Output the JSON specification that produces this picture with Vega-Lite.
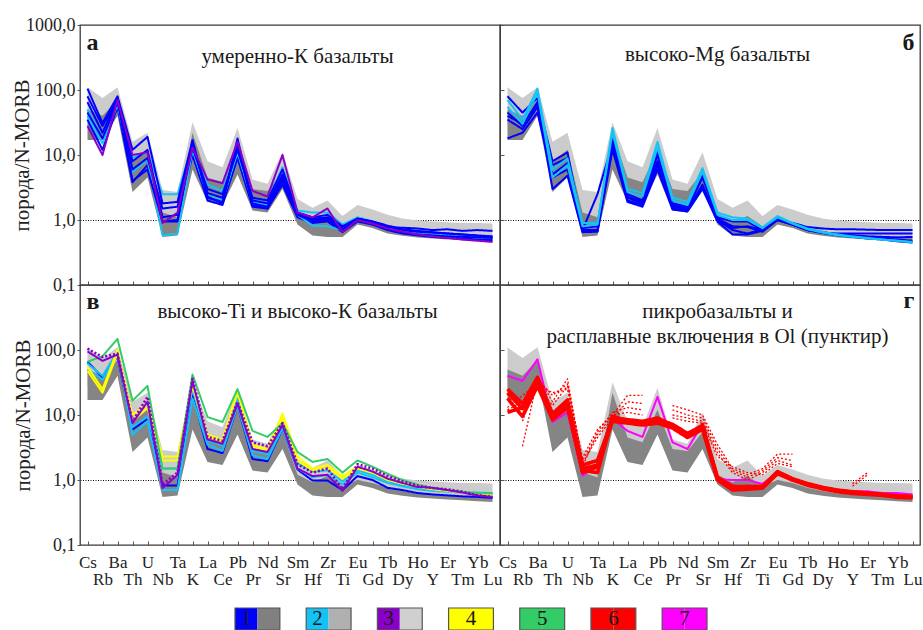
{
"$schema": "https://vega.github.io/schema/vega-lite/v6.json",
"padding": {"left": 10, "top": 15, "right": 2, "bottom": 2},
"background": "white",
"config": {
  "view": {"stroke": "#3a3a3a", "strokeWidth": 1.3},
  "axis": {"labelFont": "Liberation Serif", "titleFont": "Liberation Serif", "labelColor": "#222", "titleColor": "#222", "labelFontSize": 17, "titleFontSize": 21, "titleFontWeight": "normal", "zindex": 1, "tickColor": "#555", "domain": false},
  "text": {"font": "Liberation Serif", "color": "#1a1a1a"}
},
"datasets": {
  "fields": [
    {"f":"f3","b":"v","Cs":110,"Rb":75,"Ba":110,"Th":16,"U":22,"Nb":2.9,"Ta":2.7,"K":32,"La":8,"Ce":6.5,"Pb":26,"Pr":4.2,"Nd":3.6,"Sr":11,"Sm":2.1,"Hf":1.55,"Zr":2.0,"Ti":1.15,"Eu":1.7,"Gd":1.45,"Tb":1.2,"Dy":1.05,"Ho":0.98,"Y":0.95,"Er":0.92,"Tm":0.9,"Yb":0.9,"Lu":0.88},
    {"f":"f3","b":"lo","Cs":28,"Rb":22,"Ba":45,"Th":4.5,"U":7,"Nb":0.85,"Ta":0.85,"K":12,"La":2.8,"Ce":2.4,"Pb":9,"Pr":2.1,"Nd":1.9,"Sr":4.5,"Sm":1.1,"Hf":0.85,"Zr":0.9,"Ti":0.72,"Eu":1.0,"Gd":0.88,"Tb":0.74,"Dy":0.66,"Ho":0.61,"Y":0.59,"Er":0.57,"Tm":0.55,"Yb":0.54,"Lu":0.53},
    {"f":"f1","b":"v","Cs":50,"Rb":40,"Ba":70,"Th":8,"U":12,"Nb":1.3,"Ta":1.1,"K":22,"La":4.5,"Ce":3.8,"Pb":12,"Pr":3.0,"Nd":2.8,"Sr":5.5,"Sm":1.2,"Hf":0.92,"Zr":1.15,"Ti":0.8,"Eu":1.0,"Gd":0.9,"Tb":0.76,"Dy":0.68,"Ho":0.62,"Y":0.6,"Er":0.58,"Tm":0.56,"Yb":0.55,"Lu":0.54},
    {"f":"f1","b":"lo","Cs":17,"Rb":17,"Ba":40,"Th":2.7,"U":4.5,"Nb":0.55,"Ta":0.58,"K":6,"La":1.9,"Ce":1.7,"Pb":5,"Pr":1.4,"Nd":1.3,"Sr":3,"Sm":0.85,"Hf":0.58,"Zr":0.55,"Ti":0.55,"Eu":0.85,"Gd":0.75,"Tb":0.62,"Dy":0.57,"Ho":0.54,"Y":0.52,"Er":0.5,"Tm":0.49,"Yb":0.47,"Lu":0.46}
  ],
  "series": [
    {"p":"a","s":"a8","g":"1","t":"s","Cs":35,"Rb":12,"Ba":55,"Th":3.8,"U":7,"Nb":0.95,"Ta":1.0,"K":10,"La":2.0,"Ce":1.7,"Pb":9,"Pr":1.6,"Nd":1.5,"Sr":3.5,"Sm":1.1,"Hf":0.9,"Zr":0.95,"Ti":0.65,"Eu":0.95,"Gd":0.85,"Tb":0.7,"Dy":0.62,"Ho":0.58,"Y":0.55,"Er":0.53,"Tm":0.52,"Yb":0.5,"Lu":0.49},
    {"p":"a","s":"a6","g":"2","t":"s","Cs":40,"Rb":15,"Ba":60,"Th":5.5,"U":8.5,"Nb":0.58,"Ta":0.62,"K":12,"La":2.4,"Ce":2.0,"Pb":11,"Pr":1.9,"Nd":1.7,"Sr":4.5,"Sm":1.2,"Hf":0.82,"Zr":0.8,"Ti":0.7,"Eu":1.0,"Gd":0.9,"Tb":0.74,"Dy":0.66,"Ho":0.62,"Y":0.6,"Er":0.58,"Tm":0.56,"Yb":0.54,"Lu":0.53},
    {"p":"a","s":"a5","g":"2","t":"s","Cs":50,"Rb":18,"Ba":72,"Th":9,"U":11,"Nb":2.5,"Ta":2.5,"K":14,"La":3.5,"Ce":2.8,"Pb":13,"Pr":2.2,"Nd":2.0,"Sr":6.5,"Sm":1.4,"Hf":1.3,"Zr":1.3,"Ti":0.85,"Eu":1.1,"Gd":0.95,"Tb":0.78,"Dy":0.7,"Ho":0.65,"Y":0.6,"Er":0.58,"Tm":0.56,"Yb":0.55,"Lu":0.54},
    {"p":"a","s":"a2","g":"1","t":"s","Cs":80,"Rb":28,"Ba":70,"Th":4,"U":6,"Nb":0.95,"Ta":0.95,"K":16,"La":2.2,"Ce":1.9,"Pb":15,"Pr":1.7,"Nd":1.5,"Sr":4.0,"Sm":1.2,"Hf":0.95,"Zr":1.0,"Ti":0.68,"Eu":1.0,"Gd":0.9,"Tb":0.72,"Dy":0.65,"Ho":0.6,"Y":0.58,"Er":0.56,"Tm":0.55,"Yb":0.54,"Lu":0.53},
    {"p":"a","s":"a3","g":"1","t":"s","Cs":65,"Rb":22,"Ba":72,"Th":6,"U":9,"Nb":1.5,"Ta":1.6,"K":14,"La":2.6,"Ce":2.2,"Pb":13,"Pr":2.0,"Nd":1.8,"Sr":5,"Sm":1.3,"Hf":1.05,"Zr":1.1,"Ti":0.78,"Eu":1.05,"Gd":0.95,"Tb":0.8,"Dy":0.7,"Ho":0.66,"Y":0.64,"Er":0.62,"Tm":0.6,"Yb":0.58,"Lu":0.56},
    {"p":"a","s":"a4","g":"1","t":"s","Cs":45,"Rb":18,"Ba":65,"Th":8,"U":12,"Nb":1.1,"Ta":1.2,"K":13,"La":3.0,"Ce":2.5,"Pb":12,"Pr":2.2,"Nd":2.0,"Sr":6,"Sm":1.3,"Hf":1.1,"Zr":1.2,"Ti":0.8,"Eu":1.05,"Gd":0.95,"Tb":0.82,"Dy":0.72,"Ho":0.68,"Y":0.65,"Er":0.62,"Tm":0.6,"Yb":0.57,"Lu":0.55},
    {"p":"a","s":"a1","g":"1","t":"s","Cs":105,"Rb":31,"Ba":80,"Th":12,"U":19,"Nb":1.8,"Ta":1.9,"K":17,"La":2.3,"Ce":1.8,"Pb":18,"Pr":1.8,"Nd":1.6,"Sr":4.5,"Sm":1.25,"Hf":1.0,"Zr":1.05,"Ti":0.72,"Eu":1.0,"Gd":0.9,"Tb":0.78,"Dy":0.76,"Ho":0.74,"Y":0.7,"Er":0.72,"Tm":0.68,"Yb":0.7,"Lu":0.68},
    {"p":"a","s":"a7","g":"3","t":"s","Cs":28,"Rb":10,"Ba":70,"Th":10,"U":11,"Nb":0.9,"Ta":1.3,"K":13,"La":4.2,"Ce":3.7,"Pb":16,"Pr":2.8,"Nd":2.3,"Sr":10,"Sm":1.3,"Hf":1.1,"Zr":1.5,"Ti":0.65,"Eu":1.0,"Gd":0.88,"Tb":0.74,"Dy":0.66,"Ho":0.6,"Y":0.56,"Er":0.53,"Tm":0.5,"Yb":0.48,"Lu":0.46},
    {"p":"b","s":"b2","g":"1","t":"s","Cs":45,"Rb":28,"Ba":65,"Th":3.0,"U":4.8,"Nb":0.65,"Ta":0.66,"K":12,"La":1.9,"Ce":1.6,"Pb":6,"Pr":1.45,"Nd":1.35,"Sr":3.0,"Sm":0.95,"Hf":0.6,"Zr":0.6,"Ti":0.68,"Eu":1.0,"Gd":0.85,"Tb":0.7,"Dy":0.64,"Ho":0.6,"Y":0.58,"Er":0.56,"Tm":0.55,"Yb":0.54,"Lu":0.55},
    {"p":"b","s":"b3","g":"1","t":"s","Cs":18,"Rb":22,"Ba":45,"Th":4.5,"U":6,"Nb":0.7,"Ta":2.5,"K":15,"La":2.2,"Ce":1.8,"Pb":8,"Pr":1.6,"Nd":1.45,"Sr":3.5,"Sm":1.0,"Hf":0.75,"Zr":0.8,"Ti":0.7,"Eu":1.0,"Gd":0.85,"Tb":0.72,"Dy":0.65,"Ho":0.6,"Y":0.57,"Er":0.54,"Tm":0.52,"Yb":0.5,"Lu":0.48},
    {"p":"b","s":"b4","g":"1","t":"s","Cs":35,"Rb":25,"Ba":55,"Th":5,"U":7.5,"Nb":0.7,"Ta":0.7,"K":14,"La":2.0,"Ce":1.7,"Pb":7,"Pr":1.5,"Nd":1.4,"Sr":3.2,"Sm":1.0,"Hf":0.7,"Zr":0.62,"Ti":0.72,"Eu":1.05,"Gd":0.85,"Tb":0.7,"Dy":0.63,"Ho":0.58,"Y":0.55,"Er":0.52,"Tm":0.5,"Yb":0.47,"Lu":0.45},
    {"p":"b","s":"b7","g":"1","t":"s","Cs":40,"Rb":30,"Ba":60,"Th":7,"U":9,"Nb":0.68,"Ta":0.68,"K":20,"La":2.5,"Ce":2.0,"Pb":12,"Pr":1.8,"Nd":1.6,"Sr":5,"Sm":1.05,"Hf":0.8,"Zr":0.78,"Ti":0.66,"Eu":1.0,"Gd":0.85,"Tb":0.7,"Dy":0.64,"Ho":0.62,"Y":0.62,"Er":0.62,"Tm":0.62,"Yb":0.62,"Lu":0.62},
    {"p":"b","s":"b1","g":"1","t":"s","Cs":80,"Rb":45,"Ba":75,"Th":8,"U":11,"Nb":0.75,"Ta":0.8,"K":18,"La":2.3,"Ce":1.9,"Pb":10,"Pr":1.7,"Nd":1.5,"Sr":4.5,"Sm":1.1,"Hf":0.95,"Zr":0.95,"Ti":0.7,"Eu":1.05,"Gd":0.9,"Tb":0.78,"Dy":0.74,"Ho":0.72,"Y":0.72,"Er":0.71,"Tm":0.7,"Yb":0.7,"Lu":0.7},
    {"p":"b","s":"b6","g":"2","t":"s","Cs":55,"Rb":30,"Ba":90,"Th":4.5,"U":7,"Nb":0.8,"Ta":0.85,"K":22,"La":2.7,"Ce":2.3,"Pb":13,"Pr":2.0,"Nd":1.7,"Sr":5.5,"Sm":1.2,"Hf":1.0,"Zr":1.0,"Ti":0.75,"Eu":1.1,"Gd":0.88,"Tb":0.72,"Dy":0.64,"Ho":0.58,"Y":0.55,"Er":0.52,"Tm":0.5,"Yb":0.48,"Lu":0.45},
    {"p":"b","s":"b5","g":"2","t":"s","Cs":70,"Rb":35,"Ba":105,"Th":5.9,"U":8.9,"Nb":0.9,"Ta":0.9,"K":26,"La":3.0,"Ce":2.6,"Pb":16,"Pr":2.2,"Nd":1.9,"Sr":6.3,"Sm":1.3,"Hf":1.1,"Zr":1.05,"Ti":0.77,"Eu":1.15,"Gd":0.9,"Tb":0.74,"Dy":0.66,"Ho":0.6,"Y":0.56,"Er":0.53,"Tm":0.5,"Yb":0.48,"Lu":0.46},
    {"p":"c","s":"c1","g":"1","t":"s","Cs":66,"Rb":38,"Ba":80,"Th":6,"U":8.7,"Nb":0.82,"Ta":0.82,"K":20,"La":3.0,"Ce":2.6,"Pb":14,"Pr":2.1,"Nd":1.95,"Sr":6.1,"Sm":1.45,"Hf":0.98,"Zr":0.98,"Ti":0.7,"Eu":1.15,"Gd":1.0,"Tb":0.76,"Dy":0.7,"Ho":0.63,"Y":0.6,"Er":0.58,"Tm":0.56,"Yb":0.55,"Lu":0.53},
    {"p":"c","s":"c2","g":"2","t":"s","Cs":62,"Rb":40,"Ba":95,"Th":5,"U":8,"Nb":0.7,"Ta":0.7,"K":18,"La":3.5,"Ce":2.8,"Pb":14,"Pr":2.4,"Nd":2.1,"Sr":6.2,"Sm":1.5,"Hf":1.1,"Zr":1.2,"Ti":0.85,"Eu":1.3,"Gd":1.1,"Tb":0.9,"Dy":0.8,"Ho":0.72,"Y":0.68,"Er":0.66,"Tm":0.64,"Yb":0.63,"Lu":0.62},
    {"p":"c","s":"c3","g":"2","t":"s","Cs":50,"Rb":35,"Ba":85,"Th":6.5,"U":9.5,"Nb":1.5,"Ta":1.5,"K":25,"La":4,"Ce":3.4,"Pb":18,"Pr":2.8,"Nd":2.5,"Sr":7,"Sm":1.8,"Hf":1.35,"Zr":1.4,"Ti":0.95,"Eu":1.4,"Gd":1.2,"Tb":0.95,"Dy":0.82,"Ho":0.75,"Y":0.7,"Er":0.68,"Tm":0.66,"Yb":0.64,"Lu":0.63},
    {"p":"c","s":"c4","g":"4","t":"s","Cs":55,"Rb":25,"Ba":100,"Th":8,"U":13,"Nb":2.0,"Ta":2.0,"K":30,"La":5,"Ce":4.2,"Pb":22,"Pr":3.5,"Nd":3.0,"Sr":10.5,"Sm":2.3,"Hf":1.5,"Zr":1.7,"Ti":1.15,"Eu":1.6,"Gd":1.35,"Tb":1.05,"Dy":0.9,"Ho":0.8,"Y":0.75,"Er":0.7,"Tm":0.66,"Yb":0.62,"Lu":0.6},
    {"p":"c","s":"c5","g":"4","t":"s","Cs":48,"Rb":22,"Ba":90,"Th":10,"U":15,"Nb":2.3,"Ta":2.3,"K":28,"La":4.6,"Ce":4.0,"Pb":24,"Pr":3.2,"Nd":2.8,"Sr":9,"Sm":2.0,"Hf":1.4,"Zr":1.55,"Ti":1.05,"Eu":1.5,"Gd":1.3,"Tb":1.0,"Dy":0.88,"Ho":0.78,"Y":0.72,"Er":0.68,"Tm":0.64,"Yb":0.6,"Lu":0.58},
    {"p":"c","s":"c6","g":"5","t":"s","Cs":66,"Rb":80,"Ba":148,"Th":16.6,"U":28,"Nb":1.5,"Ta":1.5,"K":42,"La":9.3,"Ce":7.8,"Pb":25,"Pr":5.7,"Nd":4.6,"Sr":7.5,"Sm":2.7,"Hf":1.9,"Zr":2.1,"Ti":1.3,"Eu":2.0,"Gd":1.6,"Tb":1.25,"Dy":1.0,"Ho":0.85,"Y":0.75,"Er":0.7,"Tm":0.66,"Yb":0.63,"Lu":0.62},
    {"p":"c","s":"c7","g":"3","t":"s","Cs":95,"Rb":68,"Ba":85,"Th":7.5,"U":16,"Nb":0.75,"Ta":1.2,"K":33,"La":4.2,"Ce":3.6,"Pb":15,"Pr":3.0,"Nd":2.7,"Sr":7,"Sm":1.5,"Hf":1.15,"Zr":1.2,"Ti":0.68,"Eu":1.6,"Gd":1.35,"Tb":1.05,"Dy":0.9,"Ho":0.78,"Y":0.76,"Er":0.7,"Tm":0.64,"Yb":0.58,"Lu":0.55},
    {"p":"c","s":"c8","g":"3","t":"d","Cs":105,"Rb":78,"Ba":88,"Th":8,"U":19,"Nb":0.85,"Ta":1.3,"K":36,"La":4.6,"Ce":4.0,"Pb":16,"Pr":3.8,"Nd":3.3,"Sr":7.5,"Sm":1.75,"Hf":1.3,"Zr":1.5,"Ti":0.72,"Eu":1.75,"Gd":1.5,"Tb":1.15,"Dy":0.95,"Ho":0.82,"Y":0.75,"Er":0.72,"Tm":0.66,"Yb":0.58,"Lu":0.55},
    {"p":"d","s":"d7","g":"7","t":"s","Cs":40,"Rb":33.5,"Ba":72,"Th":7.8,"U":11,"Nb":1.17,"Ta":1.66,"K":8.7,"La":5.7,"Ce":4.6,"Pb":19,"Pr":3.8,"Nd":3.0,"Sr":7.3,"Sm":1.03,"Hf":1.0,"Zr":1.0,"Ti":0.87,"Eu":1.3,"Gd":1.0,"Tb":0.85,"Dy":0.75,"Ho":0.7,"Y":0.67,"Er":0.67,"Tm":0.63,"Yb":0.63,"Lu":0.6},
    {"p":"d","s":"r1","g":"6","t":"s","Cs":22,"Rb":12.5,"Ba":32,"Th":9.7,"U":15,"Nb":1.7,"Ta":2.0,"K":8.7,"La":8.0,"Ce":7.5,"Pb":8,"Pr":6.8,"Nd":4.8,"Sr":6.5,"Sm":1.03,"Hf":0.75,"Zr":0.75,"Ti":0.77,"Eu":1.3,"Gd":1.02,"Tb":0.85,"Dy":0.75,"Ho":0.68,"Y":0.64,"Er":0.62,"Tm":0.6,"Yb":0.56,"Lu":0.55},
    {"p":"d","s":"r2","g":"6","t":"s","Cs":18,"Rb":9.5,"Ba":28,"Th":8.5,"U":13,"Nb":1.4,"Ta":1.3,"K":9,"La":8.5,"Ce":8,"Pb":9,"Pr":7,"Nd":5,"Sr":7,"Sm":1.1,"Hf":0.8,"Zr":0.78,"Ti":0.8,"Eu":1.35,"Gd":1.05,"Tb":0.88,"Dy":0.77,"Ho":0.7,"Y":0.66,"Er":0.63,"Tm":0.6,"Yb":0.57,"Lu":0.56},
    {"p":"d","s":"r3","g":"6","t":"s","Cs":25,"Rb":15,"Ba":38,"Th":10.5,"U":17,"Nb":1.5,"Ta":1.7,"K":8,"La":7.5,"Ce":7.0,"Pb":7.5,"Pr":6.3,"Nd":4.5,"Sr":6,"Sm":1.0,"Hf":0.7,"Zr":0.72,"Ti":0.75,"Eu":1.25,"Gd":1.0,"Tb":0.83,"Dy":0.73,"Ho":0.66,"Y":0.62,"Er":0.6,"Tm":0.58,"Yb":0.54,"Lu":0.53},
    {"p":"d","s":"r4","g":"6","t":"s","Cs":11,"Rb":13,"Ba":30,"Th":9,"U":14,"Nb":1.3,"Ta":1.6,"K":9.5,"La":8.2,"Ce":7.8,"Pb":8.5,"Pr":7.2,"Nd":5.2,"Sr":6.8,"Sm":1.05,"Hf":0.78,"Zr":0.8,"Ti":0.78,"Eu":1.28,"Gd":1.0,"Tb":0.86,"Dy":0.76,"Ho":0.69,"Y":0.65,"Er":0.62,"Tm":0.59,"Yb":0.56,"Lu":0.55},
    {"p":"d","s":"m1a","g":"6","t":"d","Rb":3.3,"Ba":35,"Th":20,"U":30,"Nb":2.0,"Ta":5,"K":10,"La":20,"Ce":20},
    {"p":"d","s":"m1b","g":"6","t":"d","Pr":14,"Nd":12,"Sr":10,"Sm":3.5,"Hf":1.5,"Zr":1.2,"Ti":1.5,"Eu":2.5,"Gd":2.5},
    {"p":"d","s":"m2a","g":"6","t":"d","Rb":8,"Ba":40,"Th":16,"U":36,"Nb":1.8,"Ta":4.5,"K":9,"La":16,"Ce":15},
    {"p":"d","s":"m2b","g":"6","t":"d","Pr":12,"Nd":10,"Sr":9,"Sm":3,"Hf":1.4,"Zr":1.1,"Ti":1.4,"Eu":2.2,"Gd":2.0},
    {"p":"d","s":"m3a","g":"6","t":"d","Cs":13,"Rb":20,"Ba":30,"Th":22,"U":25,"Nb":1.6,"Ta":5.5,"K":11,"La":13,"Ce":12},
    {"p":"d","s":"m3b","g":"6","t":"d","Pr":10,"Nd":9,"Sr":8,"Sm":2.6,"Hf":1.3,"Zr":1.0,"Ti":1.3,"Eu":2.0,"Gd":1.7},
    {"p":"d","s":"m4a","g":"6","t":"d","Cs":12,"Rb":16,"Ba":28,"Th":14,"U":28,"Nb":2.2,"Ta":6,"K":10,"La":11,"Ce":10},
    {"p":"d","s":"m4b","g":"6","t":"d","Pr":9,"Nd":8,"Sr":7.5,"Sm":2.3,"Hf":1.6,"Zr":1.3,"Ti":1.2,"Eu":1.8,"Gd":1.6},
    {"p":"d","s":"m5","g":"6","t":"d","Y":0.8,"Er":1.2},
    {"p":"d","s":"m6","g":"6","t":"d","Y":0.88,"Er":1.3}
  ],
  "notes": [
    {"p":"a","k":"title","txt":"умеренно-К базальты","el":"Sm","v":320},
    {"p":"a","k":"letL","txt":"а","el":"Cs","v":530},
    {"p":"b","k":"title","txt":"высоко-Mg базальты","el":"Sm","v":340},
    {"p":"b","k":"letR","txt":"б","el":"Lu","v":530},
    {"p":"c","k":"title","txt":"высоко-Ti и высоко-К базальты","el":"Sm","v":385},
    {"p":"c","k":"letL","txt":"в","el":"Cs","v":550},
    {"p":"d","k":"title","txt":"пикробазальты и","el":"Sm","v":385},
    {"p":"d","k":"title","txt":"расплавные включения в Ol (пунктир)","el":"Sm","v":158},
    {"p":"d","k":"letR","txt":"г","el":"Lu","v":560}
  ],
  "legend": [
    {"item":"1","part":"a","g":"1"},{"item":"1","part":"b","g":"f1"},
    {"item":"2","part":"a","g":"2"},{"item":"2","part":"b","g":"f2"},
    {"item":"3","part":"a","g":"3"},{"item":"3","part":"b","g":"f3"},
    {"item":"4","part":"a","g":"4"},{"item":"4","part":"b","g":"4"},
    {"item":"5","part":"a","g":"5"},{"item":"5","part":"b","g":"5"},
    {"item":"6","part":"a","g":"6"},{"item":"6","part":"b","g":"6"},
    {"item":"7","part":"a","g":"7"},{"item":"7","part":"b","g":"7"}
  ]
},
"spacing": 19,
"vconcat": [
  {"spacing": 0, "bounds": "flush", "columns": 2, "concat": [
      {"width": 420, "height": 260,
       "encoding": {
         "x": {"field": "el", "type": "nominal", "sort": ["Cs","Rb","Ba","Th","U","Nb","Ta","K","La","Ce","Pb","Pr","Nd","Sr","Sm","Hf","Zr","Ti","Eu","Gd","Tb","Dy","Ho","Y","Er","Tm","Yb","Lu"], "scale": {"type": "point", "padding": 0.5}, "axis": {"title": null, "labels": false, "ticks": true, "tickSize": -4, "grid": false, "minExtent": 0}},
         "y": {"field": "v", "type": "quantitative", "scale": {"type": "log", "domain": [0.1, 1000], "nice": false}, "axis": {"title": "порода/N-MORB", "values": [0.1, 1, 10, 100, 1000], "labelExpr": "replace(format(datum.value, '.1f'), '.', ',')", "labelFontSize": 18, "ticks": true, "tickSize": 3, "labelPadding": 2, "titlePadding": -7, "grid": true, "gridColor": "#000", "gridDash": [1, 1.5], "gridWidth": 1, "gridOpacity": {"condition": {"test": "datum.value == 1", "value": 1}, "value": 0}}}
       },
       "layer": [
         {"data": {"name": "fields"}, "transform": [{"fold": ["Cs","Rb","Ba","Th","U","Nb","Ta","K","La","Ce","Pb","Pr","Nd","Sr","Sm","Hf","Zr","Ti","Eu","Gd","Tb","Dy","Ho","Y","Er","Tm","Yb","Lu"], "as": ["el", "v0"]}, {"pivot": "b", "value": "v0", "groupby": ["f", "el"]}, {"filter": "datum.f == 'f3'"}], "mark": {"type": "area", "color": "#cccccc"}, "encoding": {"y2": {"field": "lo"}}},
         {"data": {"name": "fields"}, "transform": [{"fold": ["Cs","Rb","Ba","Th","U","Nb","Ta","K","La","Ce","Pb","Pr","Nd","Sr","Sm","Hf","Zr","Ti","Eu","Gd","Tb","Dy","Ho","Y","Er","Tm","Yb","Lu"], "as": ["el", "v0"]}, {"pivot": "b", "value": "v0", "groupby": ["f", "el"]}, {"filter": "datum.f == 'f1'"}], "mark": {"type": "area", "color": "#858585"}, "encoding": {"y2": {"field": "lo"}}},
         {"data": {"name": "series"}, "transform": [{"filter": "datum.p == 'a'"}, {"fold": ["Cs","Rb","Ba","Th","U","Nb","Ta","K","La","Ce","Pb","Pr","Nd","Sr","Sm","Hf","Zr","Ti","Eu","Gd","Tb","Dy","Ho","Y","Er","Tm","Yb","Lu"], "as": ["el", "v"]}, {"filter": "isValid(datum.v)"}], "mark": {"type": "line", "strokeJoin": "round"},
          "encoding": {"color": {"field": "g", "type": "nominal", "scale": {"domain": ["1","2","3","4","5","6","7","f1","f2","f3"], "range": ["#0000ff","#14c3f5","#8a00c8","#ffff00","#33cc66","#ff0000","#ff00ff","#808080","#b0b0b0","#d0d0d0"]}, "legend": null}, "detail": {"field": "s"}, "strokeDash": {"field": "t", "type": "nominal", "scale": {"domain": ["s", "d"], "range": [[1, 0], [2, 2]]}, "legend": null}, "strokeWidth": {"value": 2}}},
         {"data": {"name": "notes"}, "transform": [{"filter": "datum.p == 'a' && datum.k == 'title'"}], "mark": {"type": "text", "fontSize": 21}, "encoding": {"text": {"field": "txt"}}},
         {"data": {"name": "notes"}, "transform": [{"filter": "datum.p == 'a' && datum.k == 'letL'"}], "mark": {"type": "text", "fontSize": 24, "fontWeight": "bold", "align": "left", "dx": -1}, "encoding": {"text": {"field": "txt"}}}
       ]},
      {"width": 420, "height": 260,
       "encoding": {
         "x": {"field": "el", "type": "nominal", "sort": ["Cs","Rb","Ba","Th","U","Nb","Ta","K","La","Ce","Pb","Pr","Nd","Sr","Sm","Hf","Zr","Ti","Eu","Gd","Tb","Dy","Ho","Y","Er","Tm","Yb","Lu"], "scale": {"type": "point", "padding": 0.5}, "axis": {"title": null, "labels": false, "ticks": true, "tickSize": -4, "grid": false, "minExtent": 0}},
         "y": {"field": "v", "type": "quantitative", "scale": {"type": "log", "domain": [0.1, 1000], "nice": false}, "axis": {"title": null, "labels": false, "values": [0.1, 1, 10, 100, 1000], "ticks": true, "tickSize": -4, "minExtent": 0, "grid": true, "gridColor": "#000", "gridDash": [1, 1.5], "gridWidth": 1, "gridOpacity": {"condition": {"test": "datum.value == 1", "value": 1}, "value": 0}}}
       },
       "layer": [
         {"data": {"name": "fields"}, "transform": [{"fold": ["Cs","Rb","Ba","Th","U","Nb","Ta","K","La","Ce","Pb","Pr","Nd","Sr","Sm","Hf","Zr","Ti","Eu","Gd","Tb","Dy","Ho","Y","Er","Tm","Yb","Lu"], "as": ["el", "v0"]}, {"pivot": "b", "value": "v0", "groupby": ["f", "el"]}, {"filter": "datum.f == 'f3'"}], "mark": {"type": "area", "color": "#cccccc"}, "encoding": {"y2": {"field": "lo"}}},
         {"data": {"name": "fields"}, "transform": [{"fold": ["Cs","Rb","Ba","Th","U","Nb","Ta","K","La","Ce","Pb","Pr","Nd","Sr","Sm","Hf","Zr","Ti","Eu","Gd","Tb","Dy","Ho","Y","Er","Tm","Yb","Lu"], "as": ["el", "v0"]}, {"pivot": "b", "value": "v0", "groupby": ["f", "el"]}, {"filter": "datum.f == 'f1'"}], "mark": {"type": "area", "color": "#858585"}, "encoding": {"y2": {"field": "lo"}}},
         {"data": {"name": "series"}, "transform": [{"filter": "datum.p == 'b'"}, {"fold": ["Cs","Rb","Ba","Th","U","Nb","Ta","K","La","Ce","Pb","Pr","Nd","Sr","Sm","Hf","Zr","Ti","Eu","Gd","Tb","Dy","Ho","Y","Er","Tm","Yb","Lu"], "as": ["el", "v"]}, {"filter": "isValid(datum.v)"}], "mark": {"type": "line", "strokeJoin": "round"},
          "encoding": {"color": {"field": "g", "type": "nominal", "scale": {"domain": ["1","2","3","4","5","6","7","f1","f2","f3"], "range": ["#0000ff","#14c3f5","#8a00c8","#ffff00","#33cc66","#ff0000","#ff00ff","#808080","#b0b0b0","#d0d0d0"]}, "legend": null}, "detail": {"field": "s"}, "strokeDash": {"field": "t", "type": "nominal", "scale": {"domain": ["s", "d"], "range": [[1, 0], [2, 2]]}, "legend": null}, "strokeWidth": {"value": 2}}},
         {"data": {"name": "notes"}, "transform": [{"filter": "datum.p == 'b' && datum.k == 'title'"}], "mark": {"type": "text", "fontSize": 21}, "encoding": {"text": {"field": "txt"}}},
         {"data": {"name": "notes"}, "transform": [{"filter": "datum.p == 'b' && datum.k == 'letR'"}], "mark": {"type": "text", "fontSize": 24, "fontWeight": "bold", "align": "right", "dx": 2}, "encoding": {"text": {"field": "txt"}}}
       ]},
      {"width": 420, "height": 260,
       "encoding": {
         "x": {"field": "el", "type": "nominal", "sort": ["Cs","Rb","Ba","Th","U","Nb","Ta","K","La","Ce","Pb","Pr","Nd","Sr","Sm","Hf","Zr","Ti","Eu","Gd","Tb","Dy","Ho","Y","Er","Tm","Yb","Lu"], "scale": {"type": "point", "padding": 0.5}, "axis": {"title": null, "labels": true, "labelAngle": 0, "labelOverlap": false, "labelBound": false, "ticks": true, "tickSize": -4, "grid": false, "labelBaseline": "top", "labelPadding": {"condition": {"test": "indexof(['Rb','Th','Nb','K','Ce','Pr','Sr','Hf','Ti','Gd','Dy','Y','Tm','Lu'], datum.value) >= 0", "value": 30}, "value": 13}}},
         "y": {"field": "v", "type": "quantitative", "scale": {"type": "log", "domain": [0.1, 1000], "nice": false}, "axis": {"title": "порода/N-MORB", "values": [0.1, 1, 10, 100], "labelExpr": "replace(format(datum.value, '.1f'), '.', ',')", "labelFontSize": 18, "ticks": true, "tickSize": 3, "labelPadding": 2, "titlePadding": 1, "grid": true, "gridColor": "#000", "gridDash": [1, 1.5], "gridWidth": 1, "gridOpacity": {"condition": {"test": "datum.value == 1", "value": 1}, "value": 0}}}
       },
       "layer": [
         {"data": {"name": "fields"}, "transform": [{"fold": ["Cs","Rb","Ba","Th","U","Nb","Ta","K","La","Ce","Pb","Pr","Nd","Sr","Sm","Hf","Zr","Ti","Eu","Gd","Tb","Dy","Ho","Y","Er","Tm","Yb","Lu"], "as": ["el", "v0"]}, {"pivot": "b", "value": "v0", "groupby": ["f", "el"]}, {"filter": "datum.f == 'f3'"}], "mark": {"type": "area", "color": "#cccccc"}, "encoding": {"y2": {"field": "lo"}}},
         {"data": {"name": "fields"}, "transform": [{"fold": ["Cs","Rb","Ba","Th","U","Nb","Ta","K","La","Ce","Pb","Pr","Nd","Sr","Sm","Hf","Zr","Ti","Eu","Gd","Tb","Dy","Ho","Y","Er","Tm","Yb","Lu"], "as": ["el", "v0"]}, {"pivot": "b", "value": "v0", "groupby": ["f", "el"]}, {"filter": "datum.f == 'f1'"}], "mark": {"type": "area", "color": "#858585"}, "encoding": {"y2": {"field": "lo"}}},
         {"data": {"name": "series"}, "transform": [{"filter": "datum.p == 'c'"}, {"fold": ["Cs","Rb","Ba","Th","U","Nb","Ta","K","La","Ce","Pb","Pr","Nd","Sr","Sm","Hf","Zr","Ti","Eu","Gd","Tb","Dy","Ho","Y","Er","Tm","Yb","Lu"], "as": ["el", "v"]}, {"filter": "isValid(datum.v)"}], "mark": {"type": "line", "strokeJoin": "round"},
          "encoding": {"color": {"field": "g", "type": "nominal", "scale": {"domain": ["1","2","3","4","5","6","7","f1","f2","f3"], "range": ["#0000ff","#14c3f5","#8a00c8","#ffff00","#33cc66","#ff0000","#ff00ff","#808080","#b0b0b0","#d0d0d0"]}, "legend": null}, "detail": {"field": "s"}, "strokeDash": {"field": "t", "type": "nominal", "scale": {"domain": ["s", "d"], "range": [[1, 0], [2, 2]]}, "legend": null}, "strokeWidth": {"condition": {"test": "datum.t == 'd'", "value": 2.6}, "value": 2}}},
         {"data": {"name": "notes"}, "transform": [{"filter": "datum.p == 'c' && datum.k == 'title'"}], "mark": {"type": "text", "fontSize": 21}, "encoding": {"text": {"field": "txt"}}},
         {"data": {"name": "notes"}, "transform": [{"filter": "datum.p == 'c' && datum.k == 'letL'"}], "mark": {"type": "text", "fontSize": 24, "fontWeight": "bold", "align": "left", "dx": -1}, "encoding": {"text": {"field": "txt"}}}
       ]},
      {"width": 420, "height": 260,
       "encoding": {
         "x": {"field": "el", "type": "nominal", "sort": ["Cs","Rb","Ba","Th","U","Nb","Ta","K","La","Ce","Pb","Pr","Nd","Sr","Sm","Hf","Zr","Ti","Eu","Gd","Tb","Dy","Ho","Y","Er","Tm","Yb","Lu"], "scale": {"type": "point", "padding": 0.5}, "axis": {"title": null, "labels": true, "labelAngle": 0, "labelOverlap": false, "labelBound": false, "ticks": true, "tickSize": -4, "grid": false, "labelBaseline": "top", "labelPadding": {"condition": {"test": "indexof(['Rb','Th','Nb','K','Ce','Pr','Sr','Hf','Ti','Gd','Dy','Y','Tm','Lu'], datum.value) >= 0", "value": 30}, "value": 13}}},
         "y": {"field": "v", "type": "quantitative", "scale": {"type": "log", "domain": [0.1, 1000], "nice": false}, "axis": {"title": null, "labels": false, "values": [0.1, 1, 10, 100, 1000], "ticks": true, "tickSize": -4, "minExtent": 0, "grid": true, "gridColor": "#000", "gridDash": [1, 1.5], "gridWidth": 1, "gridOpacity": {"condition": {"test": "datum.value == 1", "value": 1}, "value": 0}}}
       },
       "layer": [
         {"data": {"name": "fields"}, "transform": [{"fold": ["Cs","Rb","Ba","Th","U","Nb","Ta","K","La","Ce","Pb","Pr","Nd","Sr","Sm","Hf","Zr","Ti","Eu","Gd","Tb","Dy","Ho","Y","Er","Tm","Yb","Lu"], "as": ["el", "v0"]}, {"pivot": "b", "value": "v0", "groupby": ["f", "el"]}, {"filter": "datum.f == 'f3'"}], "mark": {"type": "area", "color": "#cccccc"}, "encoding": {"y2": {"field": "lo"}}},
         {"data": {"name": "fields"}, "transform": [{"fold": ["Cs","Rb","Ba","Th","U","Nb","Ta","K","La","Ce","Pb","Pr","Nd","Sr","Sm","Hf","Zr","Ti","Eu","Gd","Tb","Dy","Ho","Y","Er","Tm","Yb","Lu"], "as": ["el", "v0"]}, {"pivot": "b", "value": "v0", "groupby": ["f", "el"]}, {"filter": "datum.f == 'f1'"}], "mark": {"type": "area", "color": "#858585"}, "encoding": {"y2": {"field": "lo"}}},
         {"data": {"name": "series"}, "transform": [{"filter": "datum.p == 'd'"}, {"fold": ["Cs","Rb","Ba","Th","U","Nb","Ta","K","La","Ce","Pb","Pr","Nd","Sr","Sm","Hf","Zr","Ti","Eu","Gd","Tb","Dy","Ho","Y","Er","Tm","Yb","Lu"], "as": ["el", "v"]}, {"filter": "isValid(datum.v)"}], "mark": {"type": "line", "strokeJoin": "round"},
          "encoding": {"color": {"field": "g", "type": "nominal", "scale": {"domain": ["1","2","3","4","5","6","7","f1","f2","f3"], "range": ["#0000ff","#14c3f5","#8a00c8","#ffff00","#33cc66","#ff0000","#ff00ff","#808080","#b0b0b0","#d0d0d0"]}, "legend": null}, "detail": {"field": "s"}, "strokeDash": {"field": "t", "type": "nominal", "scale": {"domain": ["s", "d"], "range": [[1, 0], [2, 2]]}, "legend": null}, "strokeWidth": {"condition": [{"test": "datum.t == 'd'", "value": 1.3}, {"test": "datum.g == '6'", "value": 3.6}], "value": 2}}},
         {"data": {"name": "notes"}, "transform": [{"filter": "datum.p == 'd' && datum.k == 'title'"}], "mark": {"type": "text", "fontSize": 21}, "encoding": {"text": {"field": "txt"}}},
         {"data": {"name": "notes"}, "transform": [{"filter": "datum.p == 'd' && datum.k == 'letR'"}], "mark": {"type": "text", "fontSize": 24, "fontWeight": "bold", "align": "right", "dx": 2}, "encoding": {"text": {"field": "txt"}}}
       ]}
  ]},
  {"width": 840, "height": 22, "data": {"name": "legend"}, "view": {"stroke": null},
   "layer": [
     {"mark": {"type": "rect"}, "encoding": {"x": {"field": "item", "type": "nominal", "scale": {"type": "band", "range": [155, 627], "paddingInner": 0.37, "paddingOuter": 0}, "axis": null}, "xOffset": {"field": "part", "type": "nominal", "scale": {"type": "band", "paddingInner": 0, "paddingOuter": 0}}, "color": {"field": "g", "type": "nominal", "scale": {"domain": ["1","2","3","4","5","6","7","f1","f2","f3"], "range": ["#0000ff","#14c3f5","#8a00c8","#ffff00","#33cc66","#ff0000","#ff00ff","#808080","#b0b0b0","#d0d0d0"]}, "legend": null}}},
     {"transform": [{"filter": "datum.part == 'a'"}], "mark": {"type": "rect", "fill": null, "stroke": "#555", "strokeWidth": 1.2}, "encoding": {"x": {"field": "item", "type": "nominal", "scale": {"type": "band", "range": [155, 627], "paddingInner": 0.37, "paddingOuter": 0}, "axis": null}}},
     {"transform": [{"filter": "datum.part == 'a' && toNumber(datum.item) <= 3"}], "mark": {"type": "text", "fontSize": 21}, "encoding": {"x": {"field": "item", "type": "nominal", "scale": {"type": "band", "range": [155, 627], "paddingInner": 0.37, "paddingOuter": 0}, "axis": null}, "xOffset": {"field": "part", "type": "nominal", "scale": {"type": "band", "paddingInner": 0, "paddingOuter": 0}}, "text": {"field": "item"}}},
     {"transform": [{"filter": "datum.part == 'a' && toNumber(datum.item) > 3"}], "mark": {"type": "text", "fontSize": 21}, "encoding": {"x": {"field": "item", "type": "nominal", "scale": {"type": "band", "range": [155, 627], "paddingInner": 0.37, "paddingOuter": 0}, "axis": null}, "text": {"field": "item"}}}
   ]}
]
}
